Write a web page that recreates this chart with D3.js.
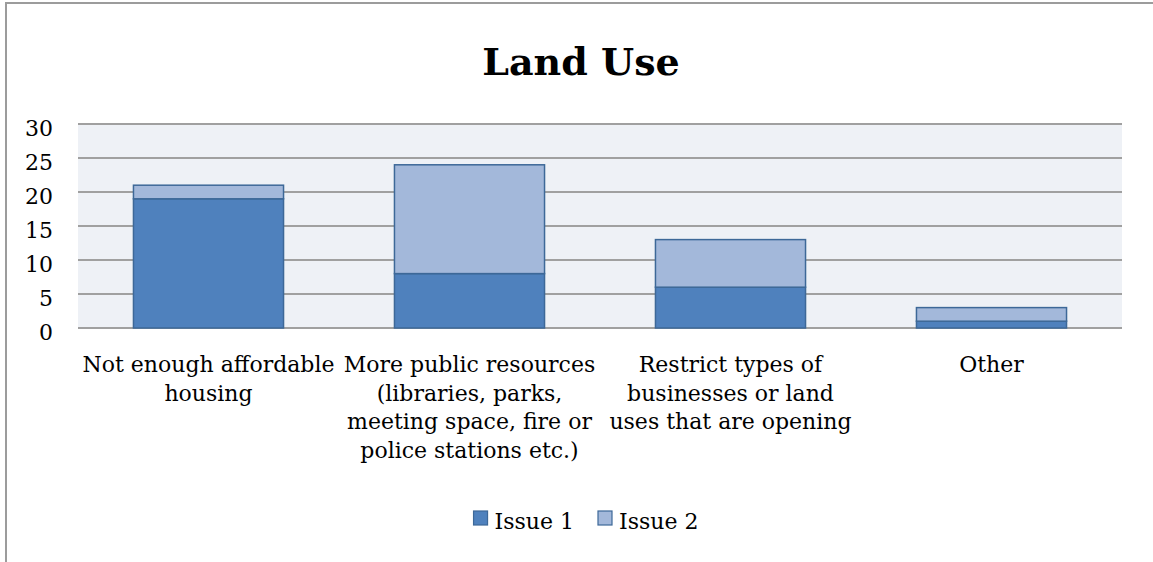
<!DOCTYPE html>
<html>
<head>
<meta charset="utf-8">
<script src="https://cdn.jsdelivr.net/npm/d3@7/dist/d3.min.js"></script>
<style>
  html, body { margin: 0; padding: 0; background: #fff; }
  svg { display: block; }
</style>
</head>
<body>
<svg id="chart" width="1153" height="562"></svg>
<script>
// ---- Data ----
const title = "Land Use";
const categories = [
  "Not enough affordable\nhousing",
  "More public resources\n(libraries, parks,\nmeeting space, fire or\npolice stations etc.)",
  "Restrict types of\nbusinesses or land\nuses that are opening",
  "Other"
];
const seriesNames = ["Issue 1", "Issue 2"];
const issue1 = [19, 8, 6, 1];
const issue2 = [2, 16, 7, 2];
const yTicks = [0, 5, 10, 15, 20, 25, 30];

// ---- Layout ----
const svg = d3.select("#chart");
const font = "'DejaVu Serif', serif";
const plot = { left: 78, right: 1122, top: 124, bottom: 328 };
const colors = ["#4F81BD", "#A3B8DA"];
const strokeCol = "#3D6898";
const fs = 22;

// chart border (extends beyond the picture on the right and bottom)
svg.append("rect")
  .attr("x", 6).attr("y", 3).attr("width", 1200).attr("height", 700)
  .attr("fill", "#fff").attr("stroke", "#9C9C9C").attr("stroke-width", 2);

// title
svg.append("text")
  .attr("x", 581).attr("y", 75)
  .attr("text-anchor", "middle")
  .attr("font-family", font).attr("font-weight", "bold")
  .attr("font-size", 38).attr("fill", "#000")
  .text(title);

const x = d3.scaleBand().domain(d3.range(categories.length))
  .range([plot.left, plot.right]).paddingInner(0.425).paddingOuter(0.2125);
const y = d3.scaleLinear().domain([0, 30]).range([plot.bottom, plot.top]);

// plot background
svg.append("rect")
  .attr("x", plot.left).attr("y", plot.top)
  .attr("width", plot.right - plot.left).attr("height", plot.bottom - plot.top)
  .attr("fill", "#EEF1F6");

// gridlines
svg.append("g").selectAll("line").data(yTicks).join("line")
  .attr("x1", plot.left).attr("x2", plot.right)
  .attr("y1", d => y(d)).attr("y2", d => y(d))
  .attr("stroke", "#A0A0A0").attr("stroke-width", 2);

// y axis labels via d3 axis
const yAxis = d3.axisLeft(y).tickValues(yTicks).tickSize(0).tickPadding(0);
const yg = svg.append("g").attr("transform", "translate(53,0)").call(yAxis);
yg.select(".domain").remove();
yg.selectAll("text")
  .attr("font-family", font).attr("font-size", fs).attr("fill", "#000")
  .attr("dy", "0.5em").attr("x", 0);

// stacked bars
const rows = categories.map((c, i) => ({ i, s0: issue1[i], s1: issue2[i] }));
const stack = d3.stack().keys(["s0", "s1"])(rows);
svg.append("g").selectAll("g").data(stack).join("g")
  .attr("fill", (d, k) => colors[k])
  .selectAll("rect").data(d => d).join("rect")
  .attr("x", d => x(d.data.i))
  .attr("width", x.bandwidth())
  .attr("y", d => y(d[1]))
  .attr("height", d => y(d[0]) - y(d[1]))
  .attr("stroke", strokeCol).attr("stroke-width", 1.5);

// category labels
const xg = svg.append("g");
categories.forEach((c, i) => {
  const t = xg.append("text")
    .attr("text-anchor", "middle")
    .attr("font-family", font).attr("font-size", fs).attr("fill", "#000");
  c.split("\n").forEach((line, j) => {
    t.append("tspan")
      .attr("x", x(i) + x.bandwidth() / 2)
      .attr("y", 372 + j * 28.5)
      .text(line);
  });
});

// legend
const legend = svg.append("g");
const sw = 14, gap = 7, itemGap = 24;
let items = seriesNames.map((n, k) => {
  const g = legend.append("g");
  g.append("rect").attr("width", sw).attr("height", sw)
    .attr("y", 511).attr("fill", colors[k]).attr("stroke", strokeCol).attr("stroke-width", 1.2);
  const tx = g.append("text").attr("x", sw + gap).attr("y", 529)
    .attr("font-family", font).attr("font-size", fs).attr("fill", "#000").text(n);
  return { g, w: sw + gap + tx.node().getComputedTextLength() };
});
const total = d3.sum(items, d => d.w) + itemGap * (items.length - 1);
let cx = 586 - total / 2;
items.forEach(it => { it.g.attr("transform", `translate(${cx},0)`); cx += it.w + itemGap; });
</script>
</body>
</html>
